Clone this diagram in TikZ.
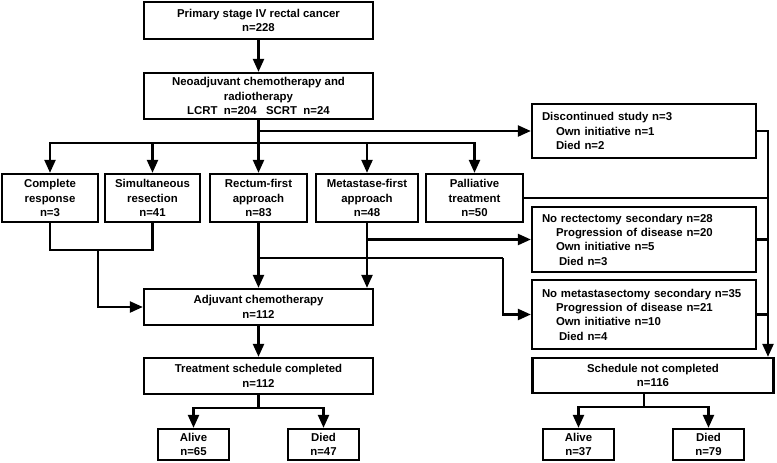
\documentclass[tikz,border=0pt]{standalone}
\usepackage{fontspec}
\setmainfont{Liberation Sans}
\usetikzlibrary{arrows.meta}
\begin{document}
\begin{tikzpicture}[x=1pt,y=-1pt,
  line width=2.3pt,
  every node/.style={font=\fontsize{11.4}{14.3}\selectfont\bfseries},
  box/.style={draw, line width=2.3pt, align=center, inner sep=0pt},
  lbox/.style={draw, line width=2.3pt, align=left, inner ysep=0pt, inner xsep=10pt, text width=204pt, minimum width=224pt},
  arr/.style={-{Triangle[length=13pt,width=11pt]}},
  ln/.style={line cap=rect}]
\useasboundingbox[fill=white] (0,0) rectangle (777,463);
% nodes
\node[box, minimum width=229pt, minimum height=37pt] (b1) at (258.5,20.5) {Primary stage IV rectal cancer\\n=228};
\node[box, minimum width=229pt, minimum height=46pt] (b2) at (258.5,96) {Neoadjuvant chemotherapy and\\radiotherapy\\LCRT\ \ n=204\ \ \ SCRT\ \ n=24};
\node[box, minimum width=96pt, minimum height=48pt] (cr) at (50,198) {Complete\\response\\n=3};
\node[box, minimum width=95pt, minimum height=48pt] (sim) at (152.5,198) {Simultaneous\\resection\\n=41};
\node[box, minimum width=97pt, minimum height=48pt] (rf) at (258.5,198) {Rectum-first\\approach\\n=83};
\node[box, minimum width=102pt, minimum height=48pt] (mf) at (367,198) {Metastase-first\\approach\\n=48};
\node[box, minimum width=97pt, minimum height=48pt] (pal) at (474.5,198) {Palliative\\treatment\\n=50};
\node[lbox, minimum height=54pt] (disc) at (644,131) {Discontinued study n=3\\\hspace*{14pt}Own initiative n=1\\\hspace*{14pt}Died n=2};
\node[lbox, minimum height=65pt] (norect) at (644,239.5) {No rectectomy secondary n=28\\\hspace*{14pt}Progression of disease n=20\\\hspace*{14pt}Own initiative n=5\\\hspace*{17pt}Died n=3};
\node[lbox, minimum height=69pt] (nomet) at (644,314.5) {No metastasectomy secondary n=35\\\hspace*{14pt}Progression of disease n=21\\\hspace*{14pt}Own initiative n=10\\\hspace*{17pt}Died n=4};
\node[box, minimum width=229pt, minimum height=36pt] (adj) at (258.5,307) {Adjuvant chemotherapy\\n=112};
\node[box, minimum width=229pt, minimum height=36pt] (tsc) at (258.5,376) {Treatment schedule completed\\n=112};
\node[box, minimum width=241pt, minimum height=35pt] (sched) at (653,375.5) {Schedule not completed\\n=116};
\node[box, minimum width=71pt, minimum height=31pt] (al1) at (193.5,444.5) {Alive\\n=65};
\node[box, minimum width=71pt, minimum height=31pt] (di1) at (323.5,444.5) {Died\\n=47};
\node[box, minimum width=71pt, minimum height=31pt] (al2) at (578.5,444.5) {Alive\\n=37};
\node[box, minimum width=71pt, minimum height=31pt] (di2) at (708.5,444.5) {Died\\n=79};
% junction coordinates
\coordinate (h0) at (258.5,131);
\coordinate (h1) at (258.5,143);
\coordinate (rl) at (768,0);
\coordinate (j1) at (98,250);
\coordinate (j2) at (258.5,258);
\coordinate (j3) at (503,258);
\coordinate (t1) at (258.5,408);
\coordinate (s2) at (644,407);
% connectors
\draw[arr] (b1) -- (b2);
\draw (b2.south) -- (h1);
\draw[ln] (cr.north |- h1) -- (pal.north |- h1);
\draw[arr] (cr.north |- h1) -- (cr.north);
\draw[arr] (sim.north |- h1) -- (sim.north);
\draw[arr] (h1) -- (rf.north);
\draw[arr] (mf.north |- h1) -- (mf.north);
\draw[arr] (pal.north |- h1) -- (pal.north);
\draw[arr] (h0) -- (disc.west);
\draw[arr] (disc.east) -- (disc.east -| rl) -- (sched.north -| rl);
\draw (pal.east) -- (pal.east -| rl);
\draw (norect.east) -- (norect.east -| rl);
\draw (nomet.east) -- (nomet.east -| rl);
\draw (cr.south) |- (j1) -| (sim.south);
\draw[arr] (j1) |- (adj.west);
\draw[arr] (rf.south) -- (adj.north);
\draw[arr] (mf.south) -- (mf.south |- adj.north);
\draw (j2) -- (j3);
\draw[arr] (j3) |- (nomet.west);
\draw[arr] (mf.south |- norect.west) -- (norect.west);
\draw[arr] (adj) -- (tsc);
\draw (tsc.south) -- (t1);
\draw[arr] (t1) -| (al1.north);
\draw[arr] (t1) -| (di1.north);
\draw (s2 |- sched.south) -- (s2);
\draw[arr] (s2) -| (al2.north);
\draw[arr] (s2) -| (di2.north);
\end{tikzpicture}
\end{document}
